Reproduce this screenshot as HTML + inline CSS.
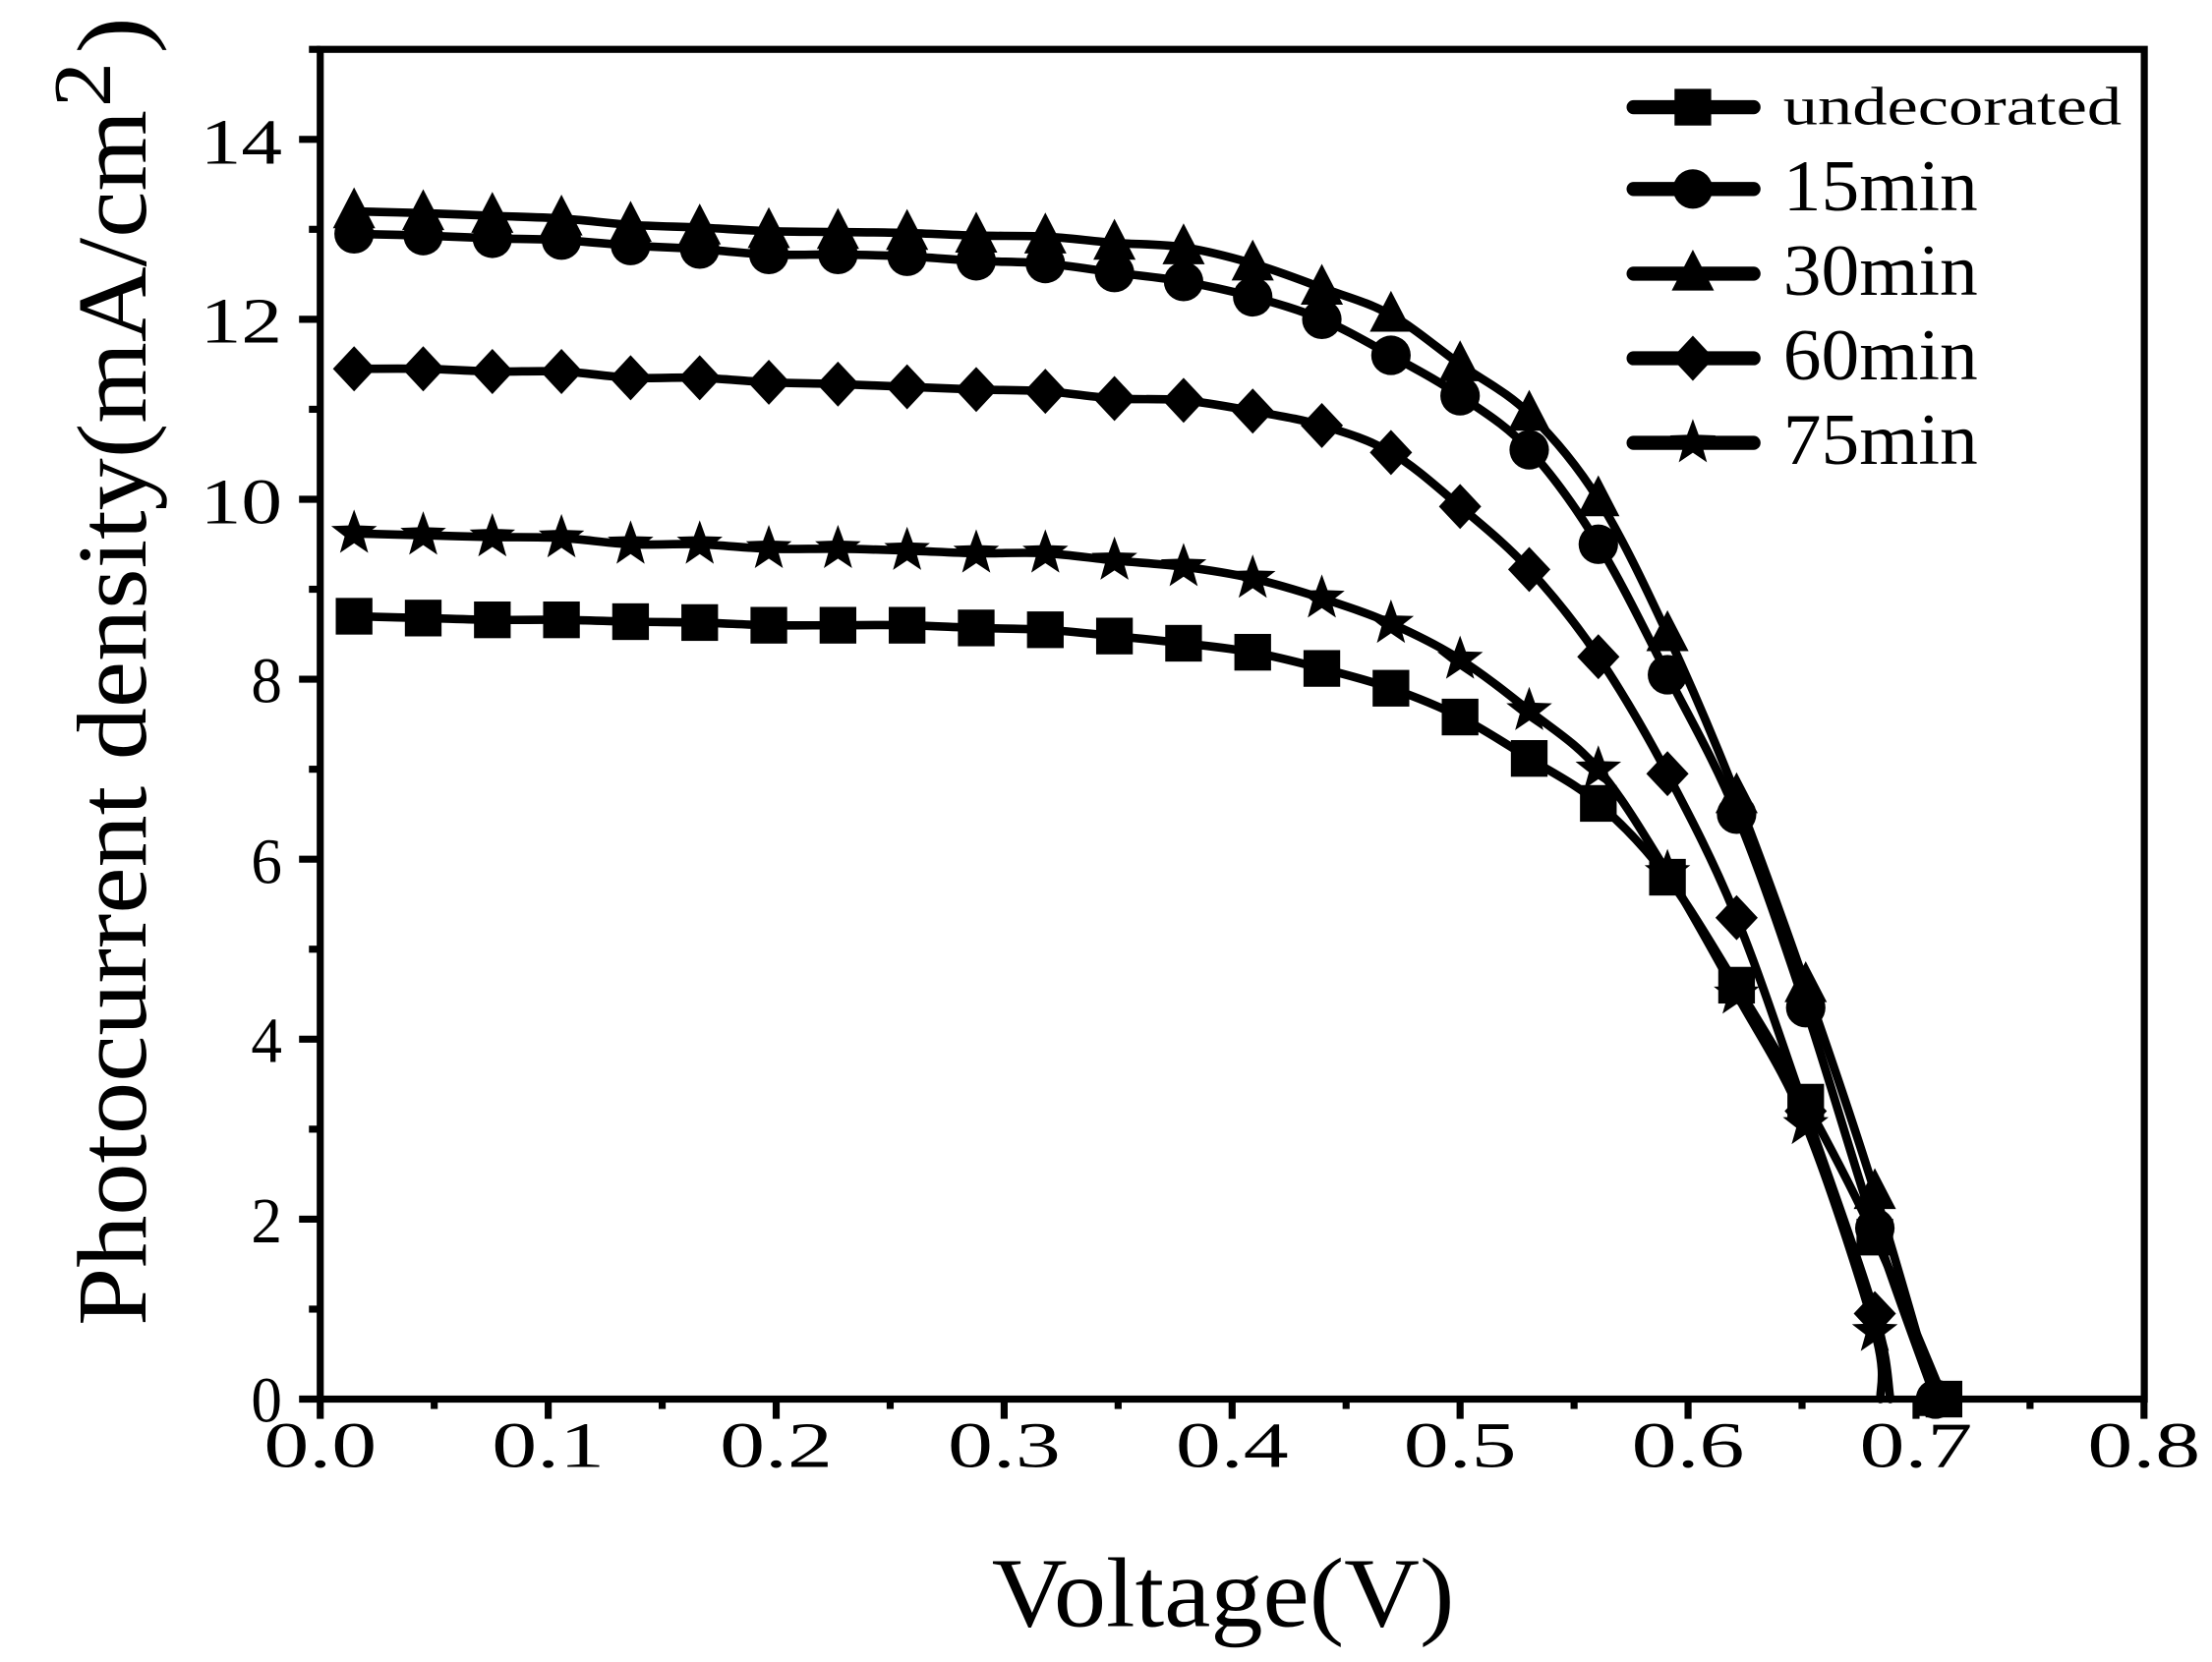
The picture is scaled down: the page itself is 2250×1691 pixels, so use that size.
<!DOCTYPE html>
<html><head><meta charset="utf-8"><style>
html,body{margin:0;padding:0;background:#fff;}
svg{display:block;}
text{font-family:"Liberation Serif","Noto Serif CJK SC",serif;fill:#000;}
</style></head><body>
<svg id="s" width="2250" height="1691" viewBox="0 0 1568 1178.4" preserveAspectRatio="none" xmlns="http://www.w3.org/2000/svg">
<rect x="0" y="0" width="1568" height="1179" fill="#fff"/>
<g id="data" stroke="#000" fill="none" stroke-width="6" stroke-linejoin="round" stroke-linecap="round"></g>
<g id="marks" fill="#000"></g>
<rect x="227" y="35" width="1293" height="957" fill="none" stroke="#000" stroke-width="5"/>
<g id="ticks" stroke="#000" stroke-width="5"></g>
<g font-size="46" text-anchor="end">
<text x="200" y="1008" textLength="22" lengthAdjust="spacingAndGlyphs">0</text>
<text x="200" y="881" textLength="22" lengthAdjust="spacingAndGlyphs">2</text>
<text x="200" y="753" textLength="22" lengthAdjust="spacingAndGlyphs">4</text>
<text x="200" y="626" textLength="22" lengthAdjust="spacingAndGlyphs">6</text>
<text x="200" y="498" textLength="22" lengthAdjust="spacingAndGlyphs">8</text>
<text x="200" y="371" textLength="58" lengthAdjust="spacingAndGlyphs">10</text>
<text x="200" y="243" textLength="58" lengthAdjust="spacingAndGlyphs">12</text>
<text x="200" y="116" textLength="58" lengthAdjust="spacingAndGlyphs">14</text>
</g>
<g font-size="46" id="xl"></g>
<text x="703" y="1153" font-size="70" textLength="328" lengthAdjust="spacingAndGlyphs">Voltage(V)</text>
<text transform="translate(103,940) rotate(-90)" font-size="70" textLength="862" lengthAdjust="spacingAndGlyphs">Photocurrent density(mA/cm</text>
<text transform="translate(78,76) rotate(-90)" font-size="58" textLength="32" lengthAdjust="spacingAndGlyphs">2</text>
<text transform="translate(103,38) rotate(-90)" font-size="70" textLength="26" lengthAdjust="spacingAndGlyphs">)</text>
<g id="leg" stroke="#000" stroke-width="10" stroke-linecap="round"></g>
<text x="1264" y="88" font-size="38" textLength="240" lengthAdjust="spacingAndGlyphs">undecorated</text>
<text x="1264" y="149" font-size="52" textLength="138" lengthAdjust="spacingAndGlyphs">15min</text>
<text x="1264" y="209" font-size="52" textLength="138" lengthAdjust="spacingAndGlyphs">30min</text>
<text x="1264" y="269" font-size="52" textLength="138" lengthAdjust="spacingAndGlyphs">60min</text>
<text x="1264" y="329" font-size="52" textLength="138" lengthAdjust="spacingAndGlyphs">75min</text>
</svg>
<script>
var NS="http://www.w3.org/2000/svg";
function el(p,t,a){var e=document.createElementNS(NS,t);for(var k in a)e.setAttribute(k,a[k]);document.getElementById(p).appendChild(e);return e;}
for(var i=0;i<=8;i++){var x=227+i*161.6;el("ticks","line",{x1:x,y1:992,x2:x,y2:1006});
 var t=el("xl","text",{x:x-40,y:1040,textLength:80,lengthAdjust:"spacingAndGlyphs"});t.textContent="0."+i;
 if(i<8){var xm=x+80.8;el("ticks","line",{x1:xm,y1:992,x2:xm,y2:999});}}
for(var j=0;j<=7;j++){var y=992-j*127.6;el("ticks","line",{x1:212,y1:y,x2:227,y2:y});
 var ym=y-63.8;el("ticks","line",{x1:219,y1:ym,x2:227,y2:ym});}
function Y(v){return 992-63.8*v;}
function X(i){return 251+49*i;}
var S={
sq:[8.7,8.68,8.66,8.66,8.64,8.63,8.6,8.6,8.6,8.57,8.55,8.48,8.4,8.3,8.12,7.9,7.58,7.12,6.62,5.8,4.6,3.3,1.8,0],
ci:[12.95,12.93,12.9,12.88,12.82,12.78,12.72,12.72,12.7,12.65,12.62,12.52,12.42,12.25,12.0,11.6,11.15,10.55,9.5,8.05,6.5,4.35,1.9,0],
tr:[13.2,13.18,13.15,13.12,13.05,13.02,12.98,12.97,12.96,12.93,12.92,12.85,12.8,12.62,12.35,12.05,11.5,10.95,10.0,8.5,6.7,4.6,2.3,0],
di:[11.45,11.45,11.42,11.42,11.35,11.35,11.3,11.28,11.25,11.22,11.2,11.12,11.1,10.98,10.82,10.52,9.92,9.22,8.25,6.95,5.35,3.2,0.95],
st:[9.62,9.6,9.58,9.57,9.5,9.5,9.45,9.45,9.43,9.4,9.4,9.32,9.25,9.12,8.9,8.62,8.22,7.65,7.0,5.85,4.5,3.05,0.75]};
var ends={di:[1340,0],st:[1333,0]};
function mk(type,x,y,g){
 var r=13;
 if(type=="sq")el(g,"rect",{x:x-r,y:y-r,width:2*r,height:2*r,fill:"#000",stroke:"none"});
 else if(type=="ci")el(g,"circle",{cx:x,cy:y,r:r+1,fill:"#000",stroke:"none"});
 else if(type=="tr")el(g,"polygon",{points:(x)+","+(y-17)+" "+(x+15)+","+(y+12)+" "+(x-15)+","+(y+12),fill:"#000",stroke:"none"});
 else if(type=="di")el(g,"polygon",{points:x+","+(y-16)+" "+(x+15)+","+y+" "+x+","+(y+16)+" "+(x-15)+","+y,fill:"#000",stroke:"none"});
 else { var p=[];for(var k=0;k<10;k++){var a=-Math.PI/2+k*Math.PI/5,rr=k%2?7:17;p.push((x+rr*Math.cos(a)).toFixed(1)+","+(y+rr*Math.sin(a)).toFixed(1));}
  el(g,"polygon",{points:p.join(" "),fill:"#000",stroke:"none"});}
}
function smooth(p){var d="M"+p[0][0]+","+p[0][1];
 for(var i=0;i<p.length-1;i++){var p0=p[i-1]||p[i],p1=p[i],p2=p[i+1],p3=p[i+2]||p2;
  var c1x=p1[0]+(p2[0]-p0[0])/6,c1y=p1[1]+(p2[1]-p0[1])/6,c2x=p2[0]-(p3[0]-p1[0])/6,c2y=p2[1]-(p3[1]-p1[1])/6;
  d+=" C"+c1x.toFixed(1)+","+c1y.toFixed(1)+" "+c2x.toFixed(1)+","+c2y.toFixed(1)+" "+p2[0]+","+p2[1];}
 return d;}
var order=["sq","ci","tr","di","st"];
order.forEach(function(k){var a=S[k],pts=[];
 for(var i=0;i<a.length;i++){var x=X(i);if((k=="ci"||k=="tr")&&i==a.length-1)x=1372;pts.push([x,Y(a[i])]);}
 if(ends[k])pts.push([ends[k][0],Y(0)]);
 el("data","path",{d:smooth(pts)});
 for(var i=0;i<a.length;i++)mk(k,pts[i][0],pts[i][1],"marks");
});
var ly=[76,134,194,254,314];
order.forEach(function(k,i){el("leg","line",{x1:1158,y1:ly[i],x2:1243,y2:ly[i]});mk(k,1200,ly[i],"leg");});
</script>
</body></html>
